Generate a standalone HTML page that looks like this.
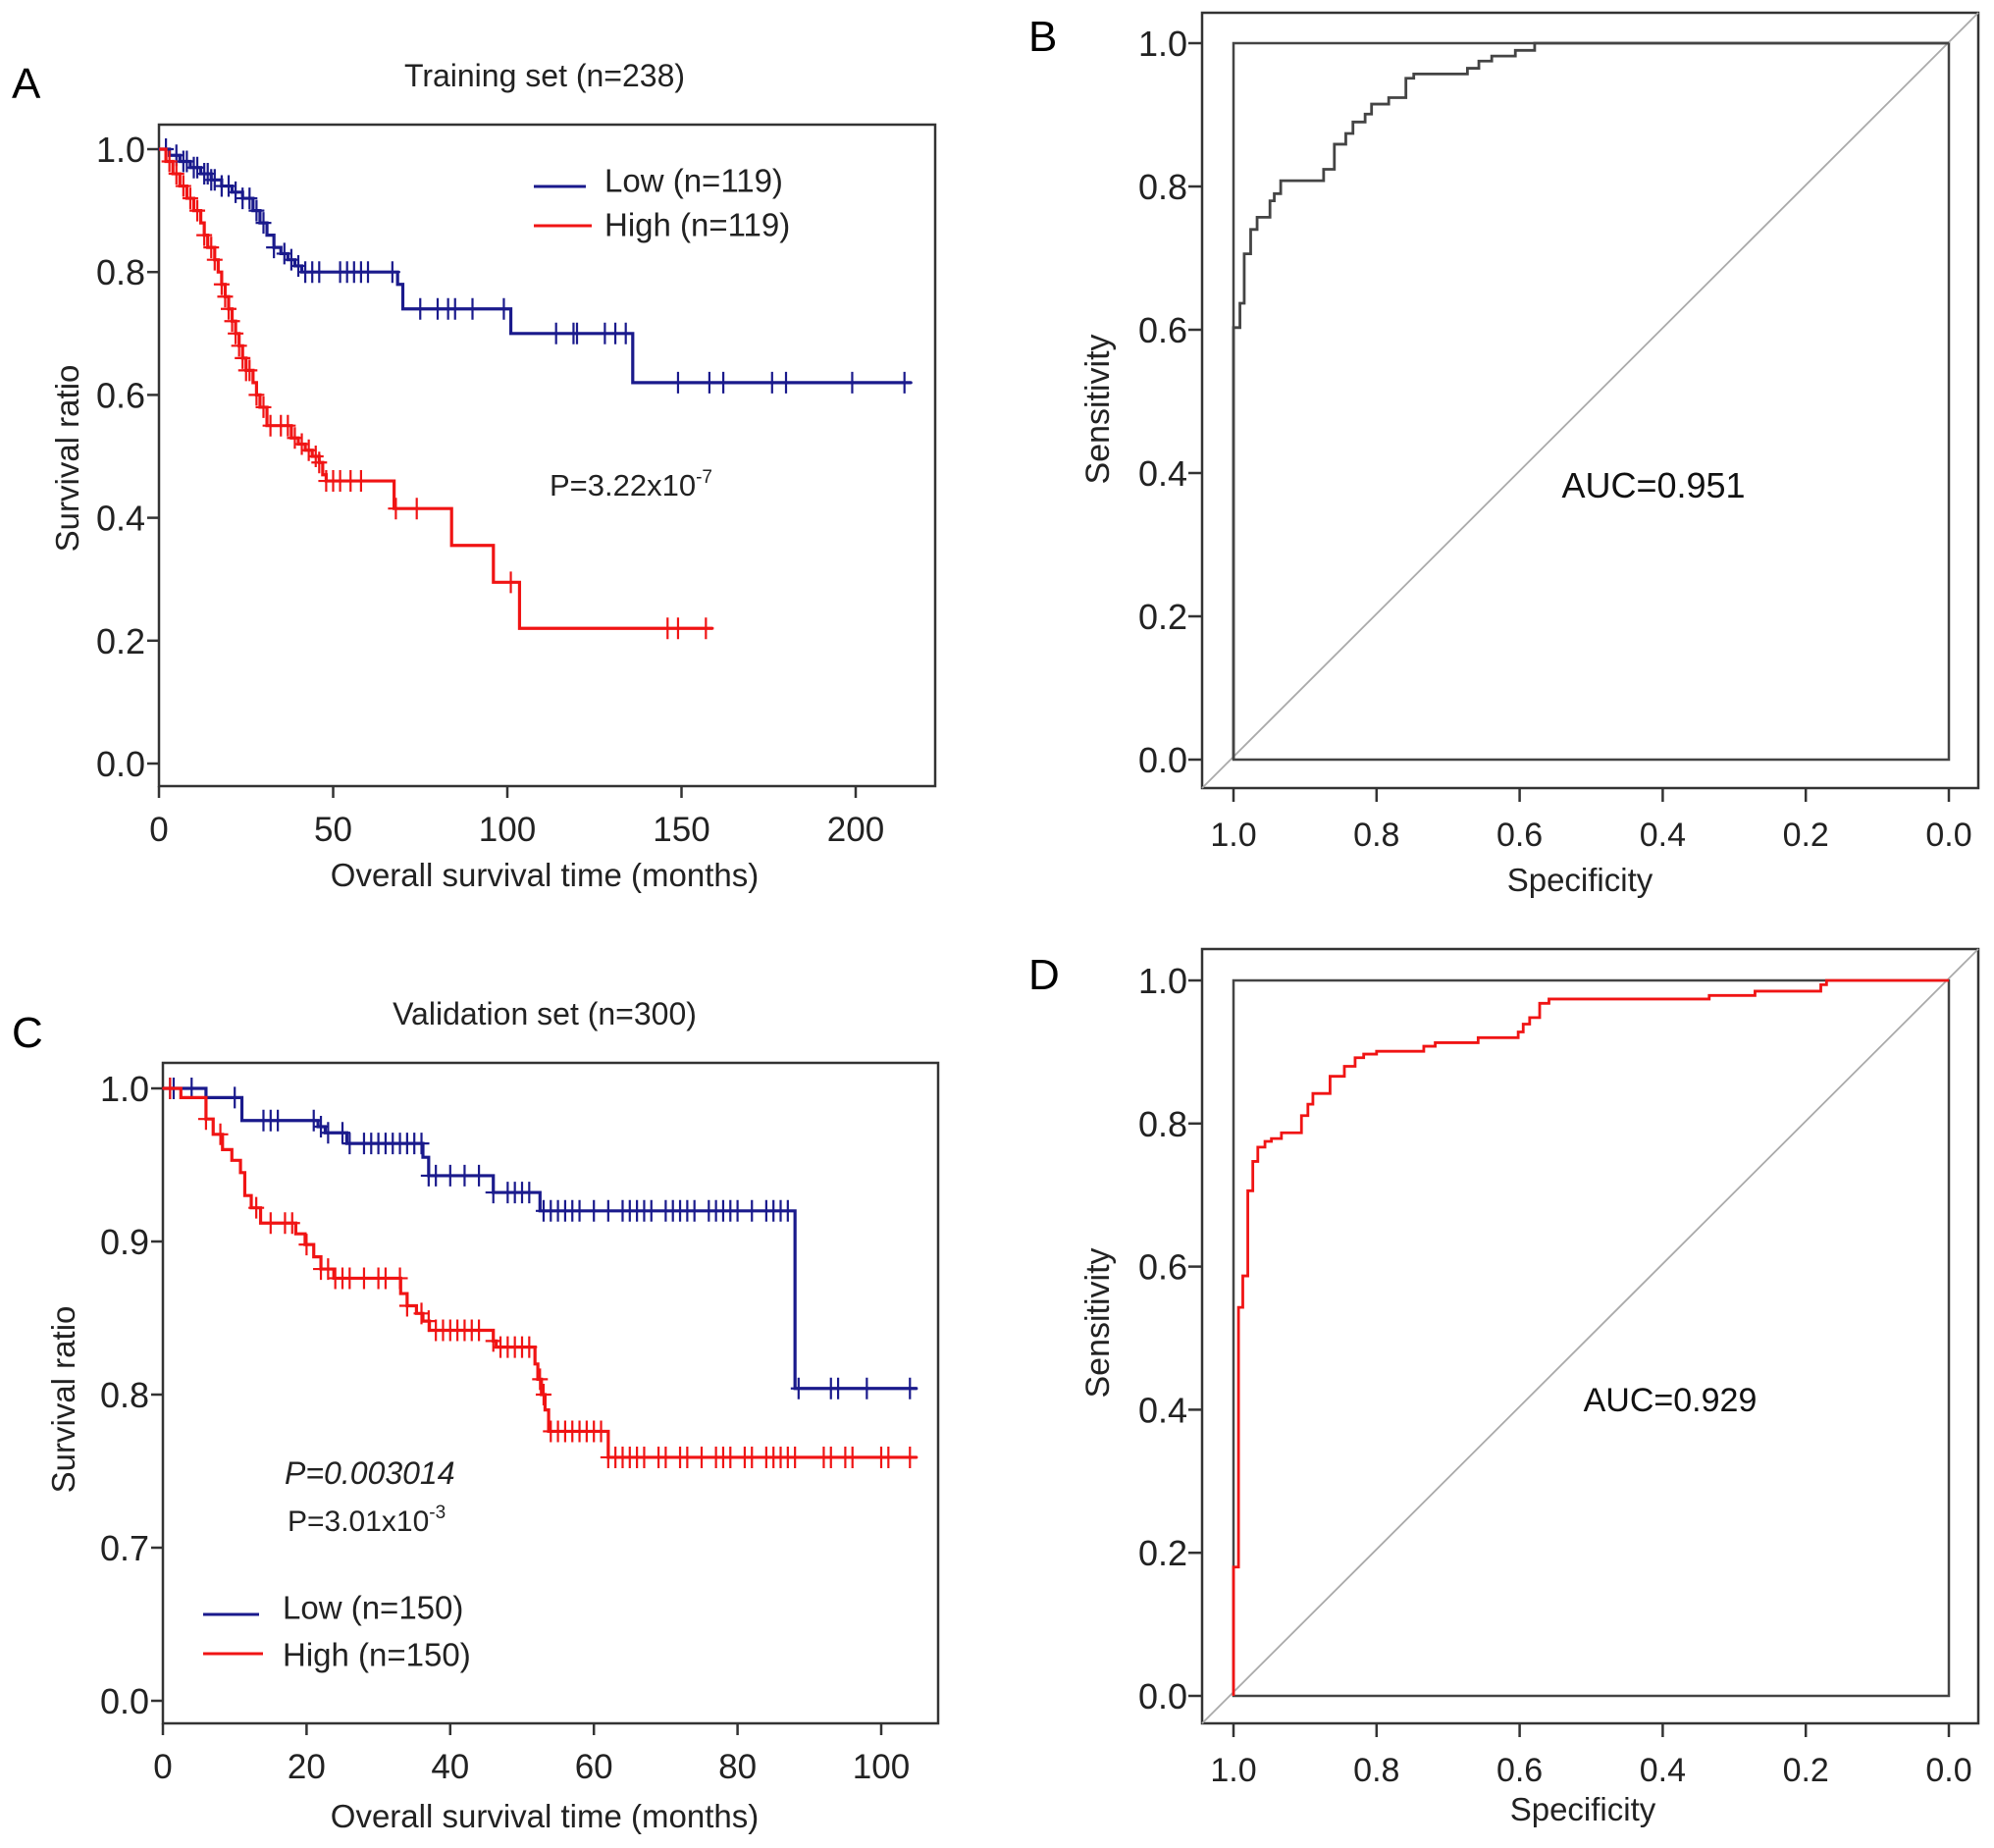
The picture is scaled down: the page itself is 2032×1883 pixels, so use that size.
<!DOCTYPE html>
<html><head><meta charset="utf-8">
<style>
html,body{margin:0;padding:0;background:#fff;}
svg{display:block;font-family:"Liberation Sans",Arial,sans-serif;}
</style></head>
<body>
<svg id="fig" width="2032" height="1883" viewBox="0 0 2032 1883" xmlns="http://www.w3.org/2000/svg">
<rect x="0" y="0" width="2032" height="1883" fill="#fff"/>
<text x="12" y="100" font-size="44">A</text>
<text x="555" y="88" font-size="32" text-anchor="middle" fill="#222">Training set (n=238)</text>
<rect x="162" y="127" width="791" height="674" fill="none" stroke="#333" stroke-width="2.5"/>
<text transform="translate(80,467) rotate(-90)" font-size="33" text-anchor="middle" fill="#222">Survival ratio</text>
<text x="555" y="903" font-size="33" text-anchor="middle" fill="#222">Overall survival time (months)</text>
<line x1="544" y1="190" x2="597" y2="190" stroke="#1a1a8c" stroke-width="3"/>
<text x="616" y="187" font-size="33" fill="#222" dominant-baseline="middle">Low (n=119)</text>
<line x1="544" y1="230" x2="603" y2="230" stroke="#f01414" stroke-width="3"/>
<text x="616" y="232" font-size="33" fill="#222" dominant-baseline="middle">High (n=119)</text>
<text x="560" y="505" font-size="31" fill="#222">P=3.22x10<tspan dy="-13" font-size="19">-7</tspan></text>

<text x="12" y="1067" font-size="44">C</text>
<text x="555" y="1044" font-size="32" text-anchor="middle" fill="#222">Validation set (n=300)</text>
<rect x="166" y="1083" width="790" height="673" fill="none" stroke="#333" stroke-width="2.5"/>
<text transform="translate(76,1426) rotate(-90)" font-size="33" text-anchor="middle" fill="#222">Survival ratio</text>
<text x="555" y="1862" font-size="33" text-anchor="middle" fill="#222">Overall survival time (months)</text>
<text x="290" y="1512" font-size="32" font-style="italic" fill="#222">P=0.003014</text>
<text x="293" y="1560" font-size="30" fill="#222">P=3.01x10<tspan dy="-13" font-size="19">-3</tspan></text>
<line x1="207" y1="1645" x2="264" y2="1645" stroke="#1a1a8c" stroke-width="3"/>
<text x="288" y="1641" font-size="33" fill="#222" dominant-baseline="middle">Low (n=150)</text>
<line x1="207" y1="1685" x2="268" y2="1685" stroke="#f01414" stroke-width="3"/>
<text x="288" y="1689" font-size="33" fill="#222" dominant-baseline="middle">High (n=150)</text>

<text x="1048" y="52" font-size="44">B</text>
<rect x="1225" y="13" width="791" height="790" fill="none" stroke="#333" stroke-width="2.5"/>
<text transform="translate(1130,417) rotate(-90)" font-size="34" text-anchor="middle" fill="#222">Sensitivity</text>
<text x="1610" y="908" font-size="33" text-anchor="middle" fill="#222">Specificity</text>
<text x="1685" y="507" font-size="36" text-anchor="middle" fill="#111">AUC=0.951</text>

<text x="1048" y="1008" font-size="44">D</text>
<rect x="1225" y="967" width="791" height="789" fill="none" stroke="#333" stroke-width="2.5"/>
<text transform="translate(1130,1348) rotate(-90)" font-size="34" text-anchor="middle" fill="#222">Sensitivity</text>
<text x="1613" y="1855" font-size="33" text-anchor="middle" fill="#222">Specificity</text>
<text x="1702" y="1438" font-size="34" text-anchor="middle" fill="#111">AUC=0.929</text>
<g id="dyn"></g>
</svg>
<script>
// ---------- Panel A data ----------
const aXTicks = [0, 50, 100, 150, 200];
const aYTicks = [0, 0.2, 0.4, 0.6, 0.8, 1.0];
const aYTickLabels = ["0.0", "0.2", "0.4", "0.6", "0.8", "1.0"];
const aLowTimes = [3,6,9,12,15,18,21,24,27,29,31,33,35,37,39,41,68.5,70,101,136];
const aLowSurv = [0.99,0.98,0.97,0.96,0.95,0.94,0.93,0.92,0.90,0.88,0.86,0.84,0.83,0.82,0.81,0.80,0.78,0.74,0.70,0.62];
const aLowCensor = [2,5,7,8,10,11,13,14,15,16,18,20,22,24,26,28,30,33,36,38,40,42,44,46,52,54,56,58,60,67,75,80,83,85,90,99,114,119,120,128,131,134,149,158,162,176,180,199,214];
const aLowEnd = 216;
const aHighTimes = [2,4,6,8,10,12,13,14,16,17,18,19,20,21,22,23,24,25,27,28,29,31,38,40,42,44,46,47,48,67.5,84,96,103.5];
const aHighSurv = [0.98,0.96,0.94,0.92,0.90,0.88,0.86,0.84,0.82,0.80,0.78,0.76,0.74,0.72,0.70,0.68,0.66,0.64,0.62,0.60,0.58,0.55,0.53,0.52,0.51,0.50,0.49,0.47,0.46,0.415,0.355,0.295,0.22];
const aHighCensor = [3,5,7,9,11,13,15,16,18,19,20,21,22,23,24,25,26,28,30,32,35,37,39,41,43,45,46,48,50,52,55,58,68,74,101,146,149,157];
const aHighEnd = 159;

// ---------- Panel C data ----------
const cXTicks = [0, 20, 40, 60, 80, 100];
const cYTicks = [0.6, 0.7, 0.8, 0.9, 1.0];
const cYTickLabels = ["0.0", "0.7", "0.8", "0.9", "1.0"];
const cLowTimes = [6,11,21.6,22.6,25.6,36.2,37,46,52.5,88];
const cLowSurv = [0.994,0.979,0.975,0.971,0.964,0.955,0.943,0.932,0.92,0.804];
const cLowCensor = [1,1.5,4,10,14,15,16,21,22,23,25,26,28,29,30,31,32,33,34,35,36,37,38,40,42,44,46,48,49,50,51,53,54,55,56,57,58,60,62,64,65,66,67,68,70,71,72,73,74,76,77,78,79,80,82,84,85,86,87,88.5,93,94,98,104];
const cLowEnd = 105;
const cHighTimes = [2.5,6,7,8.3,9.6,10.8,11.4,12.3,13.6,18.5,19.8,21,22,23.8,33.1,34,35.3,36.2,37.1,46,46.4,51.8,52.2,52.7,53.2,53.7,62];
const cHighSurv = [0.994,0.98,0.97,0.96,0.953,0.945,0.93,0.922,0.912,0.905,0.898,0.89,0.882,0.876,0.866,0.858,0.853,0.848,0.842,0.835,0.831,0.82,0.81,0.80,0.79,0.776,0.759];
const cHighCensor = [1,6,8,13,15,17,18,20,22,23,24,25,26,28,30,31,33,34,36,37,38,39,40,41,42,43,44,46,47,48,49,50,51,52.5,53,54,55,56,57,58,59,60,61,62,63,64,65,66,67,69,70,72,73,75,77,78,79,81,82,84,85,86,87,88,92,93,95,96,100,101,104];
const cHighEnd = 105;

// ---------- ROC data ----------
const rocTicks = [1.0, 0.8, 0.6, 0.4, 0.2, 0.0];
const rocTickLabels = ["1.0", "0.8", "0.6", "0.4", "0.2", "0.0"];
const bSpec = [1.0,1.0,0.991,0.991,0.985,0.985,0.976,0.976,0.967,0.967,0.949,0.949,0.943,0.943,0.934,0.934,0.874,0.874,0.859,0.859,0.843,0.843,0.833,0.833,0.816,0.816,0.807,0.807,0.783,0.783,0.759,0.759,0.748,0.748,0.673,0.673,0.657,0.657,0.639,0.639,0.606,0.606,0.579,0.579,0.0];
const bSens = [0.0,0.603,0.603,0.637,0.637,0.706,0.706,0.74,0.74,0.757,0.757,0.78,0.78,0.79,0.79,0.808,0.808,0.824,0.824,0.859,0.859,0.874,0.874,0.89,0.89,0.901,0.901,0.915,0.915,0.924,0.924,0.951,0.951,0.957,0.957,0.965,0.965,0.975,0.975,0.982,0.982,0.99,0.99,1.0,1.0];
const dSpec = [1.0,1.0,0.993,0.993,0.987,0.987,0.980,0.980,0.973,0.973,0.966,0.966,0.956,0.956,0.947,0.947,0.933,0.933,0.905,0.905,0.896,0.896,0.889,0.889,0.865,0.865,0.845,0.845,0.83,0.83,0.818,0.818,0.8,0.8,0.734,0.734,0.718,0.718,0.658,0.658,0.602,0.602,0.595,0.595,0.586,0.586,0.572,0.572,0.559,0.559,0.335,0.335,0.271,0.271,0.179,0.179,0.171,0.171,0.0];
const dSens = [0.0,0.18,0.18,0.543,0.543,0.587,0.587,0.706,0.706,0.747,0.747,0.767,0.767,0.775,0.775,0.779,0.779,0.787,0.787,0.811,0.811,0.827,0.827,0.842,0.842,0.866,0.866,0.88,0.88,0.892,0.892,0.897,0.897,0.901,0.901,0.908,0.908,0.913,0.913,0.92,0.92,0.928,0.928,0.939,0.939,0.948,0.948,0.968,0.968,0.974,0.974,0.979,0.979,0.985,0.985,0.994,0.994,1.0,1.0];

const NS = "http://www.w3.org/2000/svg";
const dyn = document.getElementById("dyn");
function mk(tag, attrs, parent) {
  const el = document.createElementNS(NS, tag);
  for (const k in attrs) el.setAttribute(k, attrs[k]);
  (parent || dyn).appendChild(el);
  return el;
}
function lin(d0, d1, r0, r1) { return v => r0 + (v - d0) / (d1 - d0) * (r1 - r0); }

function survAt(times, surv, t) {
  let s = 1;
  for (let i = 0; i < times.length; i++) if (times[i] <= t) s = surv[i];
  return s;
}

function kmPanel(p) {
  const g = mk("g", {});
  
  
  p.xTicks.forEach(v => {
    const x = p.sx(v);
    const t = mk("line", {x1: x, y1: p.bottom, x2: x, y2: p.bottom + 12, stroke: "#333", "stroke-width": 2.5}, g);
    
    
    const l = mk("text", {x: x, y: p.bottom + 56, "font-size": 35, "text-anchor": "middle", fill: "#222"}, g);
    
    
    l.textContent = String(v);
  });
  p.yTicks.forEach((v, i) => {
    const y = p.sy(v);
    const t = mk("line", {x1: p.left - 12, y1: y, x2: p.left, y2: y, stroke: "#333", "stroke-width": 2.5}, g);
    
    
    const l = mk("text", {x: p.left - 14, y: y + 13, "font-size": 36, "text-anchor": "end", fill: "#222"}, g);
    
    
    l.textContent = p.yLabels[i];
  });
  p.series.forEach(s => {
    let d = "M" + p.sx(0) + "," + p.sy(1);
    s.times.forEach((t, i) => {
      d += " H" + p.sx(t) + " V" + p.sy(s.surv[i]);
    });
    d += " H" + p.sx(s.end);
    const path = mk("path", {d: d, fill: "none", stroke: s.color, "stroke-width": 3.2});
    
    
    s.censor.forEach(t => {
      const x = p.sx(t), y = p.sy(survAt(s.times, s.surv, t));
      const c = mk("path", {d: "M" + x + "," + (y - 11) + " V" + (y + 11) + " M" + (x - 8) + "," + y + " H" + (x + 8), stroke: s.color, "stroke-width": 2.2, fill: "none"});
      
      
    });
  });
}

kmPanel({
  name: "panel-a", left: 162, bottom: 801,
  sx: lin(0, 200, 162, 872), sy: lin(0, 1, 778, 152),
  xTicks: aXTicks, yTicks: aYTicks, yLabels: aYTickLabels,
  series: [
    {name: "a-low", color: "#1a1a8c", times: aLowTimes, surv: aLowSurv, censor: aLowCensor, end: aLowEnd},
    {name: "a-high", color: "#f01414", times: aHighTimes, surv: aHighSurv, censor: aHighCensor, end: aHighEnd}
  ]
});
kmPanel({
  name: "panel-c", left: 166, bottom: 1756,
  sx: lin(0, 100, 166, 898), sy: lin(0.6, 1.0, 1733, 1109),
  xTicks: cXTicks, yTicks: cYTicks, yLabels: cYTickLabels,
  series: [
    {name: "c-low", color: "#1a1a8c", times: cLowTimes, surv: cLowSurv, censor: cLowCensor, end: cLowEnd},
    {name: "c-high", color: "#f01414", times: cHighTimes, surv: cHighSurv, censor: cHighCensor, end: cHighEnd}
  ]
});

function rocPanel(p) {
  const g = mk("g", {});
  
  
  const sq = mk("rect", {x: p.sx(1), y: p.sy(1), width: p.sx(0) - p.sx(1), height: p.sy(0) - p.sy(1), fill: "none", stroke: "#444", "stroke-width": 2.5}, g);
  
  
  const dg = mk("line", {x1: p.box[0], y1: p.box[3], x2: p.box[2], y2: p.box[1], stroke: "#aaa", "stroke-width": 1.8}, g);
  
  
  rocTicks.forEach((v, i) => {
    const x = p.sx(v);
    const t = mk("line", {x1: x, y1: p.box[3], x2: x, y2: p.box[3] + 14, stroke: "#333", "stroke-width": 2.5}, g);
    
    
    const l = mk("text", {x: x, y: p.box[3] + 59, "font-size": 34, "text-anchor": "middle", fill: "#222"}, g);
    
    
    l.textContent = rocTickLabels[i];
    const y = p.sy(v);
    const yt = mk("line", {x1: p.box[0] - 14, y1: y, x2: p.box[0], y2: y, stroke: "#333", "stroke-width": 2.5}, g);
    
    
    const yl = mk("text", {x: p.box[0] - 15, y: y + 13, "font-size": 36, "text-anchor": "end", fill: "#222"}, g);
    
    
    yl.textContent = rocTickLabels[i];
  });
  let d = "";
  p.spec.forEach((s, i) => { d += (i ? " L" : "M") + p.sx(s) + "," + p.sy(p.sens[i]); });
  const path = mk("path", {d: d, fill: "none", stroke: p.color, "stroke-width": 2.8});
  
  
}

rocPanel({name: "panel-b", box: [1225, 13, 2016, 803], sx: lin(1, 0, 1257, 1986), sy: lin(0, 1, 774, 44), spec: bSpec, sens: bSens, color: "#444"});
rocPanel({name: "panel-d", box: [1225, 967, 2016, 1756], sx: lin(1, 0, 1257, 1986), sy: lin(0, 1, 1728, 999), spec: dSpec, sens: dSens, color: "#f01414"});
</script>
</body></html>
